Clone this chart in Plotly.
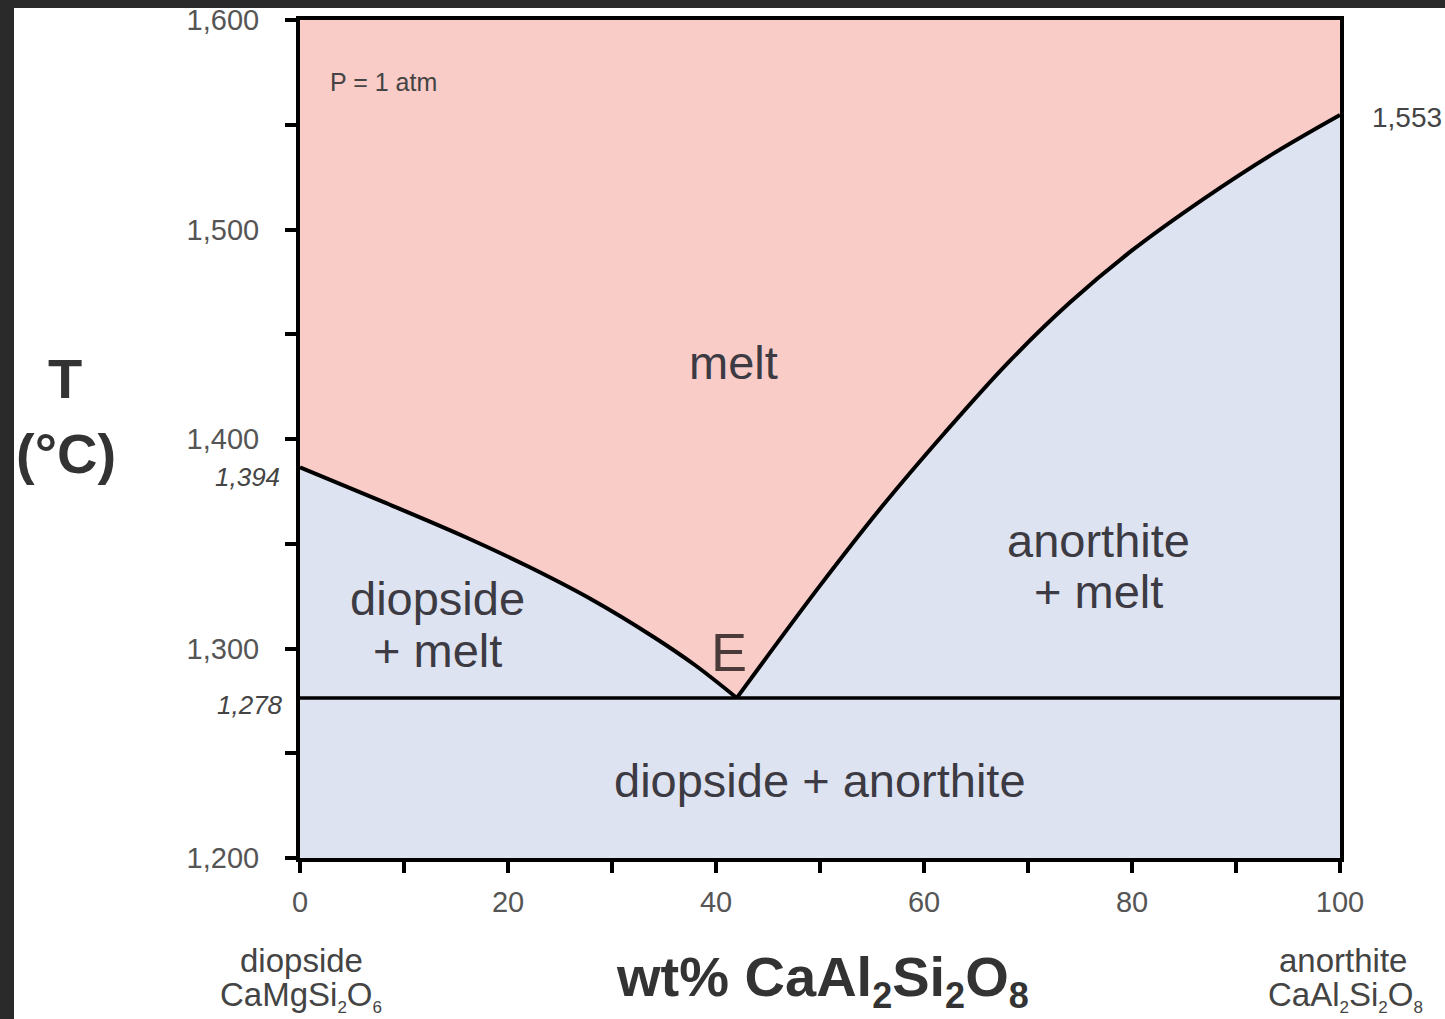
import plotly.graph_objects as go

# ---- data ----
left_x = [0, 8, 16, 22, 28, 34, 38, 42.0]
left_T = [1386.5, 1370, 1353, 1339, 1323.5, 1305.5, 1292, 1276.4]
right_x = [42.0, 50, 56, 62, 68, 74, 80, 87, 93.5, 100]
right_T = [1276.4, 1330, 1368, 1403, 1436, 1465, 1490, 1515, 1536, 1554.7]
eutectic_x = [0, 100]
eutectic_T = [1276.4, 1276.4]

x_tickvals = list(range(0, 101, 10))
x_ticktext = ["0", "", "20", "", "40", "", "60", "", "80", "", "100"]
y_tickvals = list(range(1200, 1601, 50))
y_ticktext = ["1,200", "", "1,300", "", "1,400", "", "1,500", "", "1,600"]

# ---- layout geometry (pixels) ----
W, H = 1445, 1019
L, R, T, B = 300, 1340, 20, 858
FONT = "Liberation Sans, Arial, Helvetica, sans-serif"
PINK = "#f9ccc8"
BLUE = "#dee3f1"
TXT = "#3c3a42"


def px(x):
    return (x - L) / (R - L)


def py(y):
    return (B - y) / (B - T)


def sub(s, size):
    return "<sub><span style='font-size:%dpx'>%s</span></sub>" % (size, s)


fig = go.Figure()

fig.add_trace(go.Scatter(x=left_x, y=left_T, mode="lines", line=dict(color="black", width=4, shape="spline", smoothing=1),
                         fill="tozeroy", fillcolor=BLUE, hoverinfo="skip", showlegend=False))
fig.add_trace(go.Scatter(x=right_x, y=right_T, mode="lines", line=dict(color="black", width=4, shape="spline", smoothing=1),
                         fill="tozeroy", fillcolor=BLUE, hoverinfo="skip", showlegend=False))
fig.add_trace(go.Scatter(x=eutectic_x, y=eutectic_T, mode="lines", line=dict(color="black", width=3.5),
                         fill="tozeroy", fillcolor=BLUE, hoverinfo="skip", showlegend=False))

anns = []


def ann(text, x, y, size, color=TXT, xanchor="center", yanchor="middle", bold=False, italic=False):
    t = text
    if bold:
        t = "<b>" + t + "</b>"
    if italic:
        t = "<i>" + t + "</i>"
    anns.append(dict(text=t, x=px(x), y=py(y), xref="paper", yref="paper", showarrow=False,
                     xanchor=xanchor, yanchor=yanchor, font=dict(family=FONT, size=size, color=color)))


ann("P = 1 atm", 383, 82, 25, "#444444")
ann("melt", 733, 362, 47)
ann("diopside", 437, 598, 47)
ann("+ melt", 437, 650, 47)
ann("anorthite", 1098, 540, 47)
ann("+ melt", 1098, 591, 47)
ann("diopside + anorthite", 820, 780, 47)
ann("E", 729, 652, 54, "#4a3a3a")
ann("1,394", 282, 477, 26, "#444444", xanchor="right", italic=True)
ann("1,278", 285, 705, 26, "#444444", xanchor="right", italic=True)
ann("1,553", 1370, 118, 28, "#444444", xanchor="left")
ann("T", 65, 378, 56, "#333333", bold=True)
ann("(°C)", 66, 453, 56, "#333333", bold=True)
ann("diopside", 301, 960, 33, "#444444")
ann("CaMgSi" + sub("2", 17) + "O" + sub("6", 17), 301, 996, 33, "#444444")
ann("anorthite", 1343, 960, 33, "#444444")
ann("CaAl" + sub("2", 17) + "Si" + sub("2", 17) + "O" + sub("8", 17), 1345, 996, 33, "#444444")
ann("wt% CaAl" + sub("2", 36) + "Si" + sub("2", 36) + "O" + sub("8", 36), 822, 980, 56, "#333333", bold=True)

shapes = [
    dict(type="rect", xref="paper", yref="paper", x0=px(0), x1=px(14), y0=py(H), y1=py(0),
         fillcolor="#2a2a2a", line=dict(width=0), layer="above"),
    dict(type="rect", xref="paper", yref="paper", x0=px(0), x1=px(W), y0=py(8), y1=py(0),
         fillcolor="#2a2a2a", line=dict(width=0), layer="above"),
]

fig.update_layout(
    width=W, height=H,
    margin=dict(l=L, r=W - R, t=T, b=H - B, pad=0, autoexpand=False),
    paper_bgcolor="white", plot_bgcolor=PINK,
    annotations=anns, shapes=shapes, showlegend=False,
    font=dict(family=FONT, color="#555555"),
)
fig.update_xaxes(range=[0, 100], tickvals=x_tickvals, ticktext=x_ticktext, ticks="outside", ticklen=11, tickwidth=3.5,
                 tickcolor="black", showline=True, linecolor="black", linewidth=4, mirror=True, showgrid=False,
                 zeroline=False, automargin=False, tickfont=dict(size=29, color="#555555", family=FONT),
                 ticklabelstandoff=4)
fig.update_yaxes(range=[1200, 1600], tickvals=y_tickvals, ticktext=y_ticktext, ticks="outside", ticklen=11, tickwidth=3.5,
                 tickcolor="black", showline=True, linecolor="black", linewidth=4, mirror=True, showgrid=False,
                 zeroline=False, automargin=False, tickfont=dict(size=29, color="#555555", family=FONT),
                 ticklabelstandoff=20)

fig.write_html("out.html")
